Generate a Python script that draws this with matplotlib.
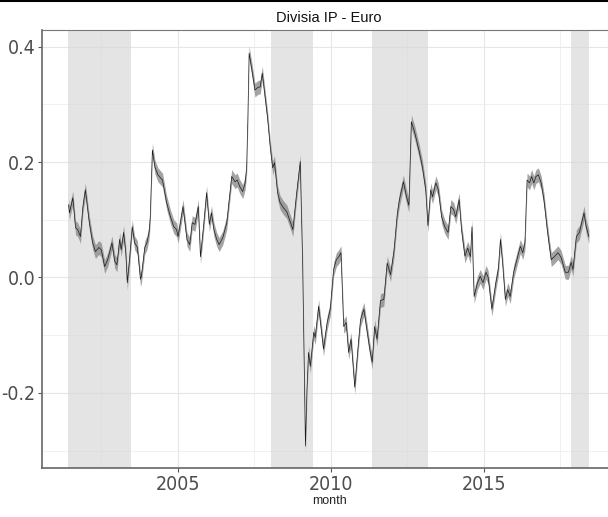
import numpy as np
import matplotlib
matplotlib.use('Agg')
import matplotlib.pyplot as plt
from matplotlib.lines import Line2D
from matplotlib import font_manager

# decimal year / index value
year = [2001.43, 2001.46, 2001.57, 2001.66, 2001.73, 2001.82, 2001.90, 2001.98, 2002.11, 2002.22,
        2002.31, 2002.42, 2002.50, 2002.61, 2002.71, 2002.85, 2002.94, 2003.01, 2003.10, 2003.15,
        2003.23, 2003.30, 2003.35, 2003.43, 2003.51, 2003.59, 2003.68, 2003.78, 2003.81, 2003.92,
        2003.99, 2004.06, 2004.10, 2004.17, 2004.25, 2004.35, 2004.50, 2004.63, 2004.76, 2004.87,
        2004.96, 2005.01, 2005.17, 2005.30, 2005.39, 2005.47, 2005.56, 2005.67, 2005.74, 2005.83,
        2005.94, 2006.03, 2006.10, 2006.18, 2006.27, 2006.35, 2006.47, 2006.60, 2006.76, 2006.87,
        2006.94, 2007.03, 2007.12, 2007.20, 2007.25, 2007.29, 2007.33, 2007.42, 2007.52, 2007.63,
        2007.69, 2007.76, 2007.85, 2007.93, 2008.02, 2008.10, 2008.16, 2008.26, 2008.34, 2008.45,
        2008.56, 2008.67, 2008.76, 2008.87, 2009.00, 2009.08, 2009.17, 2009.22, 2009.27, 2009.33,
        2009.44, 2009.49, 2009.60, 2009.76, 2009.88, 2009.98, 2010.09, 2010.18, 2010.26, 2010.33,
        2010.42, 2010.50, 2010.58, 2010.66, 2010.78, 2010.91, 2010.97, 2011.08, 2011.19, 2011.27,
        2011.35, 2011.43, 2011.51, 2011.62, 2011.73, 2011.84, 2011.95, 2012.06, 2012.17, 2012.24,
        2012.37, 2012.47, 2012.55, 2012.63, 2012.74, 2012.88, 2012.99, 2013.10, 2013.17, 2013.26,
        2013.32, 2013.43, 2013.51, 2013.62, 2013.72, 2013.83, 2013.92, 2014.01, 2014.08, 2014.19,
        2014.27, 2014.38, 2014.47, 2014.56, 2014.61, 2014.68, 2014.79, 2014.88, 2014.97, 2015.07,
        2015.14, 2015.26, 2015.39, 2015.47, 2015.54, 2015.61, 2015.70, 2015.78, 2015.86, 2015.97,
        2016.10, 2016.19, 2016.27, 2016.34, 2016.41, 2016.49, 2016.56, 2016.63, 2016.70, 2016.78,
        2016.87, 2016.96, 2017.07, 2017.14, 2017.20, 2017.30, 2017.42, 2017.52, 2017.66, 2017.76,
        2017.85, 2017.91, 2018.02, 2018.12, 2018.27, 2018.34, 2018.43]
value = [0.126, 0.112, 0.138, 0.086, 0.083, 0.071, 0.123, 0.152, 0.095, 0.060,
         0.045, 0.052, 0.048, 0.019, 0.031, 0.060, 0.028, 0.022, 0.066, 0.048,
         0.078, 0.043, -0.009, 0.036, 0.088, 0.060, 0.052, -0.003, 0.002, 0.052,
         0.060, 0.078, 0.105, 0.221, 0.192, 0.178, 0.169, 0.131, 0.105, 0.088,
         0.083, 0.071, 0.123, 0.066, 0.057, 0.095, 0.092, 0.123, 0.036, 0.083,
         0.147, 0.092, 0.112, 0.083, 0.066, 0.057, 0.069, 0.095, 0.175, 0.166,
         0.169, 0.157, 0.149, 0.164, 0.192, 0.278, 0.389, 0.360, 0.325, 0.330,
         0.330, 0.354, 0.313, 0.278, 0.226, 0.190, 0.199, 0.147, 0.130, 0.121,
         0.114, 0.097, 0.083, 0.140, 0.201, 0.020, -0.292, -0.194, -0.130, -0.154,
         -0.095, -0.104, -0.050, -0.124, -0.078, -0.055, 0.014, 0.031, 0.036, 0.043,
         -0.085, -0.078, -0.130, -0.107, -0.190, -0.107, -0.073, -0.055, -0.095, -0.124,
         -0.147, -0.085, -0.107, -0.040, -0.038, 0.025, 0.005, 0.045, 0.110, 0.135,
         0.166, 0.140, 0.125, 0.270, 0.251, 0.220, 0.192, 0.152, 0.090, 0.152,
         0.140, 0.164, 0.152, 0.105, 0.088, 0.078, 0.123, 0.118, 0.105, 0.135,
         0.082, 0.037, 0.051, 0.036, 0.088, -0.033, -0.009, 0.002, -0.009, 0.009,
         0.000, -0.055, -0.009, 0.014, 0.066, 0.026, -0.038, -0.021, -0.033, 0.009,
         0.036, 0.054, 0.043, 0.060, 0.169, 0.164, 0.175, 0.164, 0.175, 0.178,
         0.164, 0.135, 0.083, 0.054, 0.031, 0.036, 0.043, 0.035, 0.009, 0.009,
         0.026, 0.014, 0.071, 0.078, 0.112, 0.088, 0.071]
band = 0.012  # half width of the grey interval

# shaded periods (start, end)
rec_start = [2001.41, 2008.06, 2011.34, 2017.84]
rec_end = [2003.48, 2009.41, 2013.17, 2018.43]

names = set(f.name for f in font_manager.fontManager.ttflist)
narrow = 'Liberation Sans Narrow' if 'Liberation Sans Narrow' in names else 'DejaVu Sans'
plt.rcParams['font.family'] = ['Liberation Sans', 'DejaVu Sans']

fig = plt.figure(figsize=(6.08, 5.17), dpi=100)
ax = fig.add_axes([0.0694, 0.095, 0.944, 0.847])

x = np.array(year)
y = np.array(value)

for s, e in zip(rec_start, rec_end):
    ax.axvspan(s, e, color='#d9d9d9', alpha=0.7, lw=0, zorder=1)

ax.fill_between(x, y - band, y + band, color='#8c8c8c', alpha=0.8, lw=0, zorder=2)
ax.plot(x, y, color='#1a1a1a', lw=0.5, zorder=3)

ax.set_xlim(2000.57, 2019.32)
ax.set_ylim(-0.330, 0.429)
ax.set_xticks([2005, 2010, 2015])
ax.set_xticks([2002.5, 2007.5, 2012.5, 2017.5], minor=True)
ax.set_yticks([-0.2, 0.0, 0.2, 0.4])
ax.set_yticks([-0.3, -0.1, 0.1, 0.3], minor=True)
ax.set_yticklabels(['-0.2', '0.0', '0.2', '0.4'])
ax.grid(which='major', color='#e6e6e6', lw=0.8, zorder=0)
ax.grid(which='minor', color='#eeeeee', lw=0.6, zorder=0)
ax.set_axisbelow(True)

ax.tick_params(which='major', length=3, color='#555555', labelcolor='#4d4d4d', pad=2)
ax.tick_params(which='minor', length=0)
for lab in ax.get_xticklabels() + ax.get_yticklabels():
    lab.set_family(narrow)
    lab.set_fontstretch('condensed')
    lab.set_fontsize(14)
for side in ['left', 'bottom']:
    ax.spines[side].set_color('#666666')
    ax.spines[side].set_linewidth(1.2)
ax.spines['top'].set_color('#777777')
ax.spines['top'].set_linewidth(0.8)
ax.spines['right'].set_visible(False)

ax.set_xlabel('month', fontsize=9, color='#222222', labelpad=1)
ax.set_title('Divisia IP - Euro', fontsize=10.5, color='#111111', pad=6)

fig.add_artist(Line2D([0, 1], [0.998, 0.998], color='black', lw=1.5, transform=fig.transFigure))

fig.savefig('out.png', dpi=100)
